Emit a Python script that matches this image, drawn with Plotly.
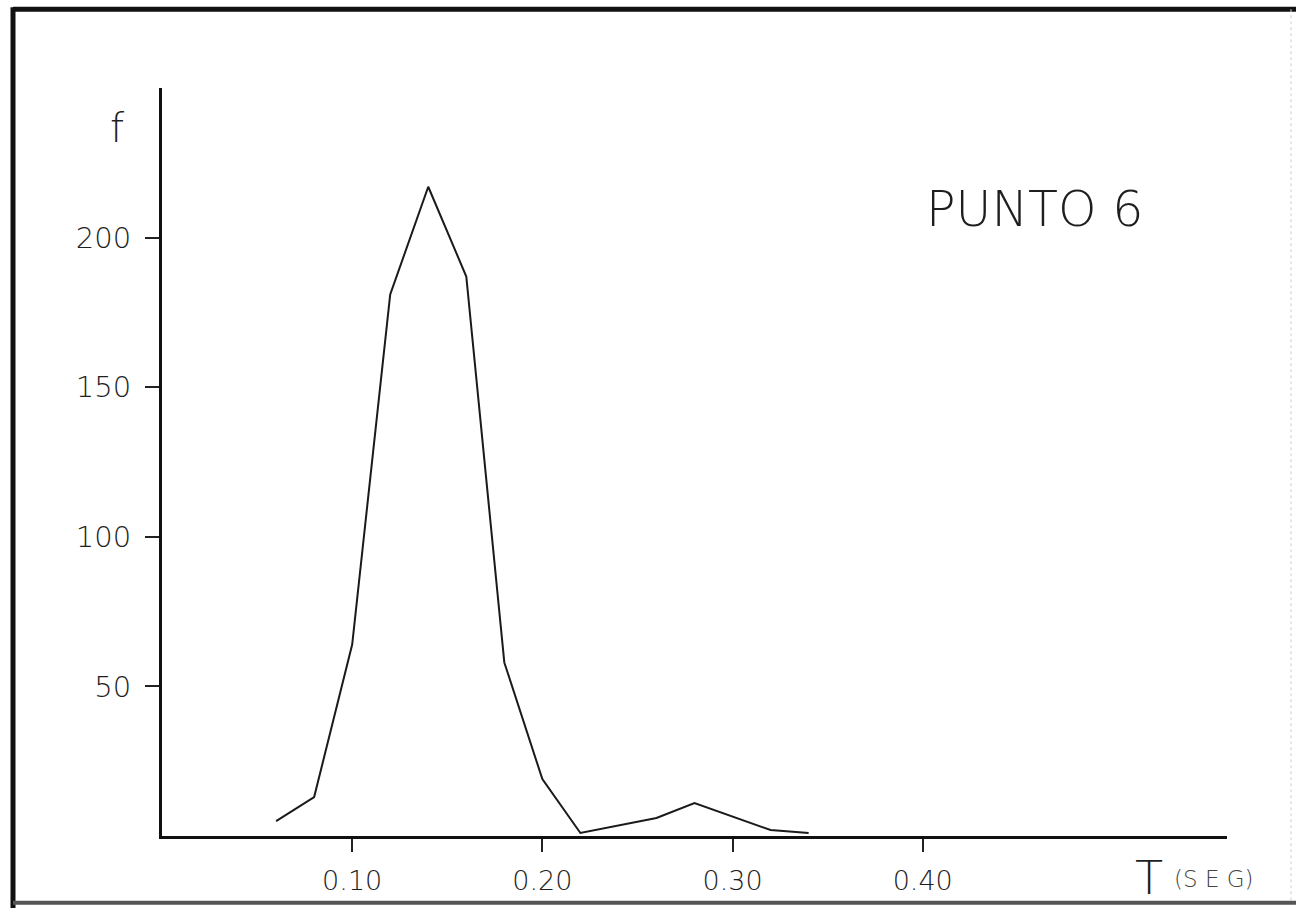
import plotly.graph_objects as go

# Data
periodo_T = [0.06, 0.08, 0.10, 0.12, 0.14, 0.16, 0.18, 0.20, 0.22, 0.26, 0.28, 0.32, 0.34]
frecuencia_f = [5, 13, 64, 181, 217, 187, 58, 19, 1, 6, 11, 2, 1]

x_tick_vals = [0.10, 0.20, 0.30, 0.40]
x_tick_text = ["0.10", "0.20", "0.30", "0.40"]
y_tick_vals = [50, 100, 150, 200]
y_tick_text = ["50", "100", "150", "200"]

W, H = 1296, 908
ML, MR, MT, MB = 162, 69, 88, 70
PW, PH = W - ML - MR, H - MT - MB

def px_x(p):
    return (p - ML) / PW

def px_y(p):
    return (H - MB - p) / PH

FONT = "DejaVu Sans"
TXT = "#1e1e1e"
WEIGHT = 200

fig = go.Figure()
fig.add_trace(go.Scatter(
    x=periodo_T, y=frecuencia_f, mode="lines",
    line=dict(color="#1a1a1a", width=2),
    showlegend=False, hoverinfo="x+y",
))

fig.update_layout(
    width=W, height=H, autosize=False,
    margin=dict(l=ML, r=MR, t=MT, b=MB),
    paper_bgcolor="white", plot_bgcolor="white",
    font=dict(family=FONT, color=TXT),
    xaxis=dict(
        range=[0, 0.56], showgrid=False, zeroline=False,
        showline=True, linecolor="#111", linewidth=3,
        ticks="outside", ticklen=13, tickwidth=2, tickcolor="#222",
        tickvals=x_tick_vals, ticktext=x_tick_text,
        tickfont=dict(family=FONT, size=27, color=TXT, weight=WEIGHT),
        ticklabelstandoff=6,
    ),
    yaxis=dict(
        range=[0, 250], showgrid=False, zeroline=False,
        showline=True, linecolor="#111", linewidth=3,
        ticks="outside", ticklen=14, tickwidth=2, tickcolor="#222",
        tickvals=y_tick_vals, ticktext=y_tick_text,
        tickfont=dict(family=FONT, size=29, color=TXT, weight=WEIGHT),
        ticklabelstandoff=8,
    ),
    annotations=[
        dict(text="PUNTO 6", xref="paper", yref="paper",
             x=px_x(924), y=px_y(210), xanchor="left", yanchor="middle",
             showarrow=False, font=dict(family=FONT, size=49, color=TXT, weight=WEIGHT)),
        dict(text="f", xref="paper", yref="paper",
             x=px_x(117), y=px_y(128), xanchor="center", yanchor="middle",
             showarrow=False, font=dict(family=FONT, size=40, color=TXT, weight=WEIGHT)),
        dict(text="T", xref="paper", yref="paper",
             x=px_x(1149), y=px_y(880), xanchor="center", yanchor="middle",
             showarrow=False, font=dict(family=FONT, size=46, color=TXT, weight=WEIGHT)),
        dict(text="(S E G)", xref="paper", yref="paper",
             x=px_x(1214), y=px_y(881), xanchor="center", yanchor="middle",
             showarrow=False, font=dict(family=FONT, size=23, color="#444", weight=WEIGHT)),
    ],
    shapes=[
        # thick frame of the scanned figure
        dict(type="line", xref="paper", yref="paper",
             x0=px_x(13), x1=px_x(W + 5), y0=px_y(9), y1=px_y(9),
             line=dict(color="#111", width=5)),
        dict(type="line", xref="paper", yref="paper",
             x0=px_x(13), x1=px_x(13), y0=px_y(7), y1=px_y(H + 5),
             line=dict(color="#111", width=5)),
        dict(type="line", xref="paper", yref="paper",
             x0=px_x(13), x1=px_x(W + 5), y0=px_y(905), y1=px_y(905),
             line=dict(color="#555", width=4)),
        dict(type="line", xref="paper", yref="paper",
             x0=px_x(1291), x1=px_x(1291), y0=px_y(9), y1=px_y(905),
             line=dict(color="#cfcfcf", width=1, dash="dot")),
    ],
)

fig.write_html("out.html")
